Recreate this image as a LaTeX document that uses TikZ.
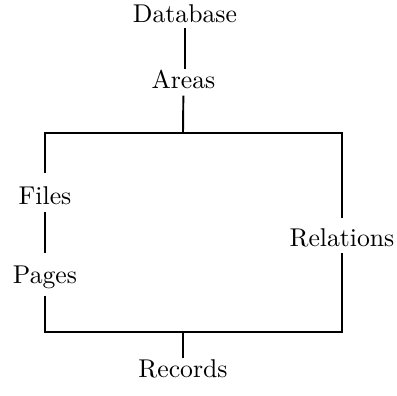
\documentclass[tikz,border=0pt]{standalone}
\begin{document}
\begin{tikzpicture}[x=0.389pt,y=-0.389pt,
  lbl/.style={anchor=base,inner sep=2.5pt,outer sep=0pt,font=\normalsize},
  conn/.style={line width=0.75pt}]
\useasboundingbox (0,0) rectangle (397,396);
\node[lbl] (db) at (185,23) {Database};
\node[lbl] (areas) at (183.5,89) {Areas};
\node[lbl] (files) at (45,205) {Files};
\node[lbl] (pages) at (45,284) {Pages};
\node[lbl] (relations) at (342,246) {Relations};
\node[lbl] (records) at (183,377.5) {Records};
\coordinate (tl) at (45,133);
\coordinate (tm) at (183,133);
\coordinate (tr) at (342,133);
\coordinate (bl) at (45,332);
\coordinate (bm) at (183,332);
\coordinate (br) at (342,332);
\draw[conn,shorten <=-0.5pt,shorten >=-2pt] (db) -- (db|-areas.north);
\draw[conn] (areas) -- (tm);
\draw[conn,shorten <=3pt,shorten >=1.3pt] (files.north) -- (tl) -- (tr) -- (relations.north);
\draw[conn,shorten >=2.7pt] (files) -- (pages);
\draw[conn] (pages.south) -- (bl) -- (br) -- (relations.south);
\draw[conn,shorten >=-2pt] (bm) -- (records);
\end{tikzpicture}
\end{document}
